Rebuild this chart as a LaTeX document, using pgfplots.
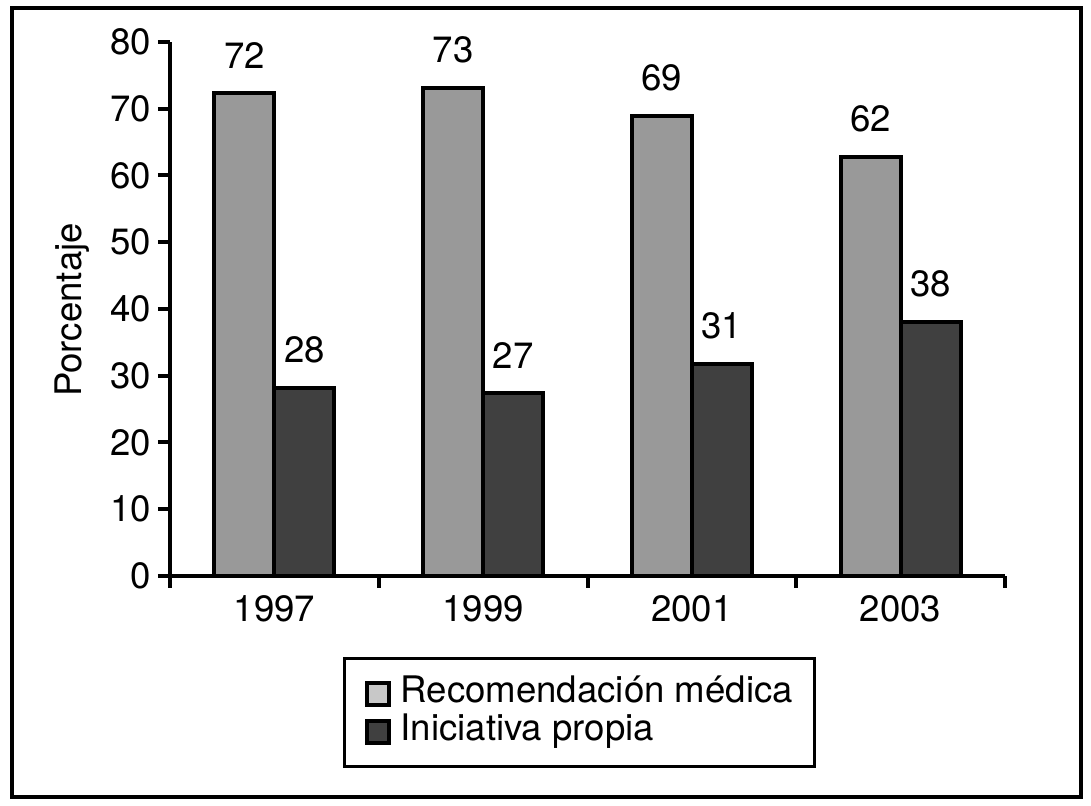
\documentclass[border=0pt]{standalone}
\usepackage{pgfplots}
\pgfplotsset{compat=1.18}
\usepackage{fontspec}
\setmainfont{TeX Gyre Heros}
\definecolor{barA}{HTML}{999999}
\definecolor{barB}{HTML}{404040}
\definecolor{legA}{HTML}{C8C8C8}
\newcommand{\ff}{\fontsize{18.3}{21}\selectfont}
\begin{document}
\begin{tikzpicture}
\path[use as bounding box] (0,0) rectangle (545.5pt,403pt);
\draw[line width=1.6pt] (6pt,4.5pt) rectangle (540.5pt,399pt);
\begin{axis}[
  at={(85pt,115pt)}, anchor=south west,
  scale only axis, width=417.5pt, height=267pt,
  xmin=-0.5, xmax=3.5, ymin=0, ymax=80,
  axis x line*=bottom, axis y line*=left,
  axis line style={line width=2pt, black},
  ytick={0,10,...,80},
  xtick={-0.5,0.5,1.5,2.5,3.5}, xticklabels={},
  extra x ticks={0,1,2,3},
  extra x tick labels={1997,1999,2001,2003},
  extra x tick style={major tick length=0pt, tick style={draw=none}, xticklabel style={yshift=-6pt}},
  tick align=outside, major tick length=6pt,
  tick style={line width=2pt, black},
  font=\ff,
  ticklabel style={font=\ff},
  /pgf/number format/assume math mode=true,
  ylabel={Porcentaje},
  ylabel style={at={(axis description cs:-0.1174,0.498)}, anchor=center, font=\ff},
  ybar, bar width=30pt,
  nodes near coords, point meta=explicit symbolic,
  every node near coord/.append style={font=\ff, black, yshift=8pt},
  legend style={draw=black, line width=1.6pt, at={(axis description cs:0.2072,-0.1517)}, anchor=north west,
    inner xsep=10pt, inner ysep=8pt, row sep=0pt, column sep=4pt,
    nodes={inner sep=1pt, text height=13pt, text depth=4pt, font=\ff, line width=0.4pt}},
  legend cell align=left,
]
\addplot[fill=barA, draw=black, line width=2pt, bar shift=-15pt, forget plot]
  coordinates {(0,72.4)[72] (1,73.1)[73] (2,68.9)[69] (3,62.8)[62]};
\addplot[fill=barB, draw=black, line width=2pt, bar shift=15pt, forget plot]
  coordinates {(0,28.2)[28] (1,27.4)[27] (2,31.8)[31] (3,38.1)[38]};
\addlegendimage{legend image code/.code={\draw[fill=legA, draw=black, line width=2pt] (0pt,-5.5pt) rectangle (11pt,5.5pt);}}
\addlegendentry{Recomendación médica}
\addlegendimage{legend image code/.code={\draw[fill=barB, draw=black, line width=2pt] (0pt,-5.5pt) rectangle (11pt,5.5pt);}}
\addlegendentry{Iniciativa propia}
\end{axis}
\end{tikzpicture}
\end{document}
